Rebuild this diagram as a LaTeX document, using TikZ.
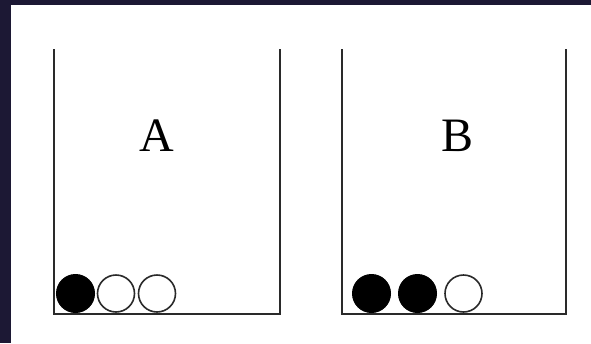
\documentclass[tikz,border=0pt]{standalone}
\usepackage{fontspec}
\setmainfont{Liberation Serif}
\definecolor{bgdark}{HTML}{1C1834}
\definecolor{linegray}{HTML}{2A2A2A}
\tikzset{
  jar/.style={draw=linegray, line width=2pt},
  blackball/.style={circle, fill=black, draw=black, line width=1pt, minimum size=38pt, inner sep=0pt},
  whiteball/.style={circle, fill=white, draw=linegray, line width=1.6pt, minimum size=37pt, inner sep=0pt},
  lbl/.style={font=\fontsize{48}{48}\selectfont, text=black}
}
\begin{document}
\begin{tikzpicture}[x=1pt,y=-1pt]
\fill[bgdark] (0,0) rectangle (591,343);
\useasboundingbox (0,0) rectangle (591,343);
\fill[white] (11,5) rectangle (591,343);
% jar A
\coordinate (a1) at (53.5,49);
\coordinate (a2) at (53.5,313.5);
\coordinate (a3) at (280,313.5);
\coordinate (a4) at (280,49);
\draw[jar] (a1) -- (a2) -- (a3) -- (a4);
% jar B
\coordinate (b1) at (341.5,49);
\coordinate (b2) at (341.5,313.5);
\coordinate (b3) at (565.5,313.5);
\coordinate (b4) at (565.5,49);
\draw[jar] (b1) -- (b2) -- (b3) -- (b4);
\node[lbl] (la) at (157,136) {A};
\node[lbl] (lb) at (457.5,136) {B};
\node[blackball] (a_1) at (75.5,293.5) {};
\node[whiteball] (a_2) at (116,293.5) {};
\node[whiteball] (a_3) at (157,293.5) {};
\node[blackball] (b_1) at (371.5,293.5) {};
\node[blackball] (b_2) at (417.5,293.5) {};
\node[whiteball] (b_3) at (463.5,293.5) {};
\end{tikzpicture}
\end{document}
